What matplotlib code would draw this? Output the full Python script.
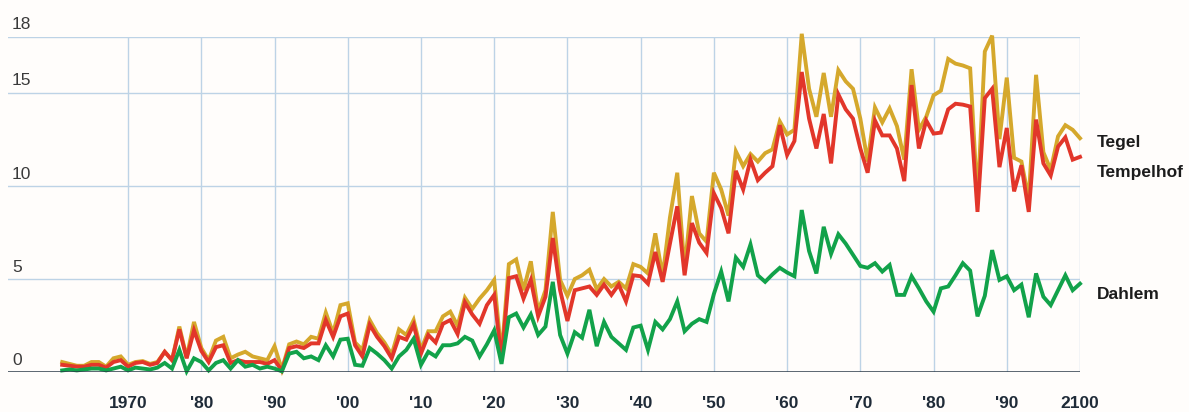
import matplotlib.pyplot as plt
import numpy as np

# Years 1961-2100, annual values for three Berlin stations
years = np.arange(1961, 2101)

tegel = [
    0.55, 0.45, 0.35, 0.35, 0.55, 0.55, 0.3, 0.75, 0.85, 0.4,      # 1961-1970
    0.55, 0.6, 0.45, 0.55, 1.1, 0.65, 2.45, 0.8, 2.7, 1.3,         # 1971-1980
    0.65, 1.7, 1.9, 0.75, 0.95, 1.1, 0.85, 0.75, 0.65, 1.4,        # 1981-1990
    0.15, 1.5, 1.65, 1.5, 1.9, 1.8, 3.2, 2.1, 3.6, 3.7,            # 1991-2000
    1.6, 1.2, 2.8, 2.1, 1.6, 0.95, 2.3, 2.0, 2.8, 1.2,             # 2001-2010
    2.2, 2.2, 3.0, 3.25, 2.5, 4.0, 3.4, 3.95, 4.4, 4.95,           # 2011-2020
    0.9, 5.8, 6.05, 4.4, 5.95, 3.25, 4.4, 8.6, 4.95, 4.1,          # 2021-2030
    5.0, 5.2, 5.5, 4.45, 5.0, 4.6, 4.85, 4.5, 5.8, 5.65,           # 2031-2040
    5.3, 7.45, 5.15, 8.3, 10.7, 5.5, 9.45, 7.45, 7.0, 10.7,        # 2041-2050
    9.8, 8.4, 11.85, 11.05, 11.7, 11.3, 11.75, 11.95, 13.45, 12.75,  # 2051-2060
    13.0, 18.15, 15.2, 13.7, 16.05, 13.7, 16.2, 15.6, 15.2, 13.6,    # 2061-2070
    11.3, 14.2, 13.4, 14.15, 13.2, 11.4, 16.25, 13.0, 13.7, 14.85,   # 2071-2080
    15.1, 16.8, 16.55, 16.45, 16.3, 9.2, 17.2, 18.05, 12.5, 15.8,    # 2081-2090
    11.5, 11.3, 9.3, 15.95, 11.8, 10.85, 12.65, 13.25, 13.0, 12.55,  # 2091-2100
]

tempelhof = [
    0.4, 0.35, 0.3, 0.3, 0.4, 0.4, 0.25, 0.55, 0.65, 0.3,
    0.5, 0.55, 0.4, 0.5, 1.1, 0.65, 2.3, 0.75, 2.25, 1.15,
    0.55, 1.35, 1.45, 0.5, 0.65, 0.55, 0.55, 0.55, 0.45, 0.65,
    0.1, 1.3, 1.4, 1.3, 1.55, 1.55, 2.8, 1.9, 3.0, 3.15,
    1.45, 0.85, 2.55, 1.9, 1.4, 0.75, 1.9, 1.75, 2.55, 1.0,
    2.0, 1.6, 2.6, 2.8, 2.05, 3.75, 3.1, 2.6, 3.6, 4.15,
    0.65, 5.05, 5.15, 3.95, 4.95, 3.0, 4.05, 7.2, 4.4, 2.75,
    4.4, 4.5, 4.6, 4.15, 4.7, 4.15, 4.7, 3.8, 5.2, 5.15,
    4.75, 6.45, 4.85, 6.9, 8.9, 5.2, 8.0, 6.95, 6.4, 9.6,
    8.8, 7.45, 10.8, 9.8, 11.4, 10.3, 10.7, 11.05, 13.25, 11.65,
    12.4, 16.1, 13.6, 12.0, 13.85, 11.2, 14.9, 14.1, 13.6, 12.0,
    10.7, 13.5, 12.7, 12.7, 12.0, 10.25, 15.4, 12.0, 13.5, 12.8,
    12.85, 14.1, 14.4, 14.35, 14.25, 8.6, 14.7, 15.2, 11.0, 13.1,
    9.7, 11.1, 8.6, 13.55, 11.2, 10.55, 12.1, 12.6, 11.4, 11.55,
]

dahlem = [
    0.1, 0.15, 0.1, 0.15, 0.2, 0.2, 0.1, 0.2, 0.3, 0.1,
    0.25, 0.2, 0.15, 0.25, 0.5, 0.2, 1.2, 0.05, 0.75, 0.55,
    0.1, 0.5, 0.65, 0.2, 0.65, 0.3, 0.4, 0.2, 0.3, 0.2,
    0.05, 1.0, 1.1, 0.75, 0.85, 0.65, 1.45, 0.85, 1.75, 1.8,
    0.4, 0.35, 1.3, 1.0, 0.65, 0.2, 0.85, 1.2, 1.8, 0.4,
    1.1, 0.85, 1.45, 1.45, 1.55, 1.9, 1.7, 0.85, 1.5, 2.25,
    0.45, 2.95, 3.15, 2.4, 3.1, 2.0, 2.45, 4.85, 2.0, 1.0,
    2.15, 1.85, 3.35, 1.4, 2.7, 1.9, 1.55, 1.2, 2.4, 2.5,
    1.2, 2.7, 2.3, 2.85, 3.8, 2.2, 2.6, 2.85, 2.7, 4.2,
    5.4, 3.8, 6.15, 5.65, 6.85, 5.2, 4.85, 5.25, 5.6, 5.35,
    5.15, 8.7, 6.5, 5.3, 7.8, 6.35, 7.4, 6.9, 6.3, 5.7,
    5.6, 5.85, 5.4, 5.75, 4.15, 4.15, 5.15, 4.5, 3.8, 3.25,
    4.5, 4.6, 5.2, 5.85, 5.45, 3.0, 4.1, 6.55, 4.95, 5.15,
    4.4, 4.7, 2.95, 5.3, 4.05, 3.6, 4.4, 5.2, 4.4, 4.75,
]

series_names = ['Tegel', 'Tempelhof', 'Dahlem']
label_y = [12.3, 10.7, 4.15]

y_ticks = [0, 5, 10, 15, 18]
x_ticks = list(range(1970, 2101, 10))
x_labels = ['1970', "'80", "'90", "'00", "'10", "'20", "'30", "'40",
            "'50", "'60", "'70", "'80", "'90", '2100']

colors = ['#d5a82c', '#e2362a', '#12a24a']
bg = '#fffdfb'
grid_c = '#bdd3e6'

plt.rcParams['font.family'] = ['Liberation Sans', 'DejaVu Sans']

fig = plt.figure(figsize=(11.89, 4.12), dpi=100, facecolor=bg)
ax = fig.add_axes([8 / 1189, 0.0964, (1080 - 8) / 1189, 0.8148])
ax.set_facecolor(bg)

ax.set_xlim(1953.6, 2100)
ax.set_ylim(0, 18)

# grid
for v in [5, 10, 15, 18]:
    ax.axhline(v, color=grid_c, lw=1.0, zorder=0)
for x in x_ticks:
    ax.axvline(x, color=grid_c, lw=1.0, zorder=0)

# lines (Tegel under Tempelhof, Dahlem on top)
for vals, c in zip([tegel, tempelhof, dahlem], colors):
    ax.plot(years, vals, color=c, lw=2.8, solid_joinstyle='miter', zorder=3, clip_on=False)

# x axis baseline
ax.axhline(0, color='#2c3a48', lw=1.8, zorder=4)

for s in ax.spines.values():
    s.set_visible(False)

ax.set_yticks([])
ax.set_xticks(x_ticks)
ax.set_xticklabels(x_labels, fontsize=12.5, fontweight='bold', color='#1f2b38')
ax.tick_params(axis='x', length=0, pad=17)

# y labels sit above their gridlines at the left edge
for v in y_ticks:
    ax.annotate(str(v), xy=(12 / 1189, v), xycoords=('figure fraction', 'data'),
                xytext=(0, 3), textcoords='offset points', ha='left', va='bottom',
                fontsize=12.5, color='#3a3a3a', annotation_clip=False)

# series labels on the right
for name, y in zip(series_names, label_y):
    ax.text(2102.3, y, name, ha='left', va='center', fontsize=12.5,
            fontweight='bold', color='#1c1c1c', clip_on=False)

fig.savefig('out.png', dpi=100, facecolor=bg)
